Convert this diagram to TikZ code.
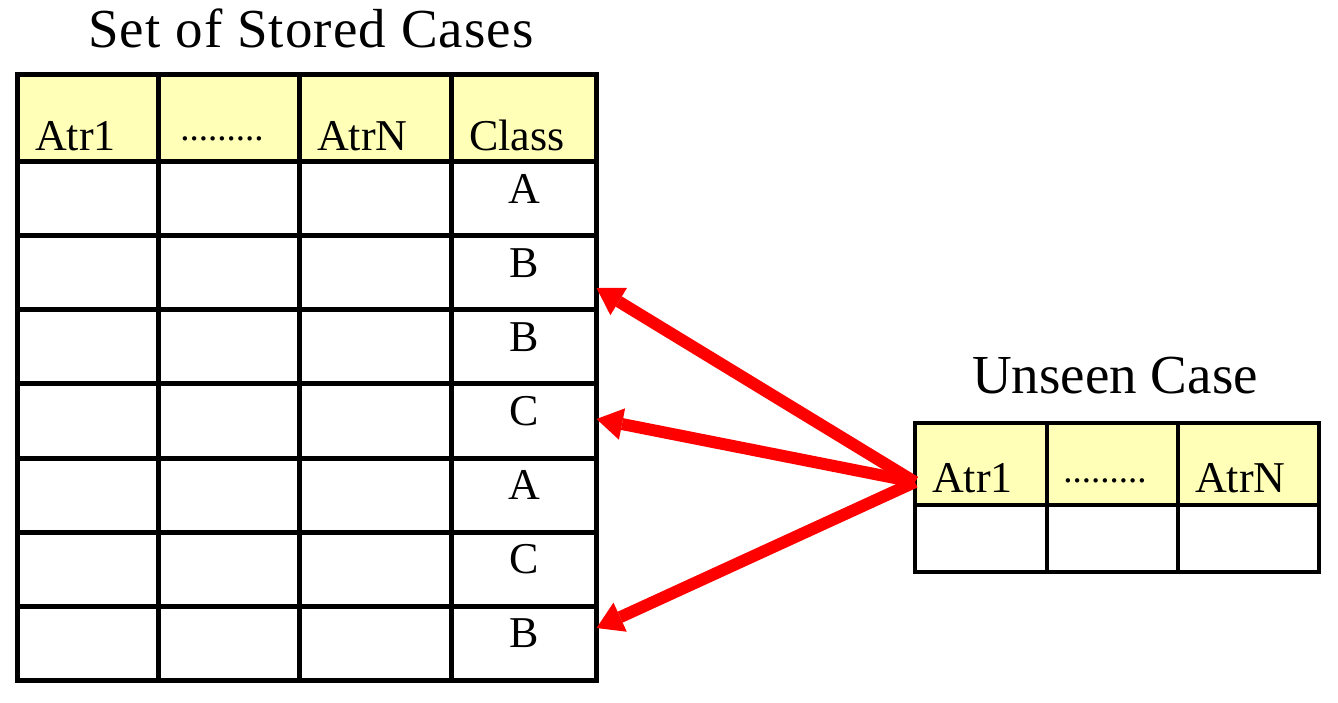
\documentclass[tikz,border=0pt]{standalone}
\usepackage{fontspec}
\setmainfont{Liberation Serif}
\newfontfamily\spacedserif[LetterSpace=2]{Liberation Serif}
\usetikzlibrary{arrows.meta}
\definecolor{headyellow}{RGB}{255,255,183}
\tikzset{
  cell/.style={draw, line width=5pt, inner sep=0pt, outer sep=0pt, anchor=north west, minimum height=74.14pt},
  headcell/.style={cell, fill=headyellow, minimum height=87pt},
  celltext/.style={font=\fontsize{44}{50}\selectfont, inner sep=0pt},
  dots/.style={font=\fontsize{37}{44}\selectfont, inner sep=0pt, anchor=base},
  title/.style={font=\fontsize{55}{62}\selectfont, inner sep=0pt, anchor=base},
  redarrow/.style={draw=red, line width=12pt, -{Triangle[length=26pt,width=32pt,line width=0pt]}}
}
\begin{document}
\begin{tikzpicture}[x=1pt, y=-1pt]
\useasboundingbox[fill=white] (0,0) rectangle (1338,702);

% stored cases
\node[title, font=\spacedserif\fontsize{55}{62}\selectfont] (stored) at (311,47) {Set of Stored Cases};
\foreach \c/\x/\w in {1/17.5/141,2/158.5/141,3/299.5/152,4/451.5/145}
{
    \node[headcell, minimum width=\w pt] (H\c) at (\x,74.5) {};
    \foreach \r in {1,...,7}
        \node[cell, minimum width=\w pt] (S\r-\c) at (\x,{161.5+(\r-1)*74.14}) {};
}
\foreach \c/\t in {1/Atr1,3/AtrN,4/Class}
    \node[celltext, anchor=base west] (HT\c) at ([xshift=17.5pt,yshift=11.5pt]H\c.south west) {\t};
\node[dots] (HT2) at ([xshift=-7pt,yshift=21.5pt]H2.south) {.........};
\foreach \r/\k in {1/A,2/B,3/B,4/C,5/A,6/C,7/B}
    \node[celltext, anchor=base] (K\r) at ([yshift=-41.5pt]S\r-4.north) {\k};

% unseen case
\node[title] (unseen) at (1115,393) {Unseen Case};
\foreach \c/\x/\w in {1/915/131.5,2/1046.5/131,3/1177.5/141.5}
{
    \node[headcell, line width=4pt, minimum width=\w pt, minimum height=81.5pt] (U\c) at (\x,423) {};
    \node[cell, line width=4pt, minimum width=\w pt, minimum height=67.5pt] (V\c) at (\x,504.5) {};
}
\node[celltext, anchor=base west] (UT1) at ([xshift=17pt,yshift=12.5pt]U1.south west) {Atr1};
\node[dots] (UT2) at ([xshift=-7pt,yshift=22.5pt]U2.south) {.........};
\node[celltext, anchor=base west] (UT3) at ([xshift=17.5pt,yshift=12.5pt]U3.south west) {AtrN};

% nearest neighbours
\foreach \r/\dy in {2/-15.3,4/2,7/15.4}
    \draw[redarrow] ([yshift=-18.25pt]U1.west) -- ([yshift=\dy pt]S\r-4.east);

\end{tikzpicture}
\end{document}
